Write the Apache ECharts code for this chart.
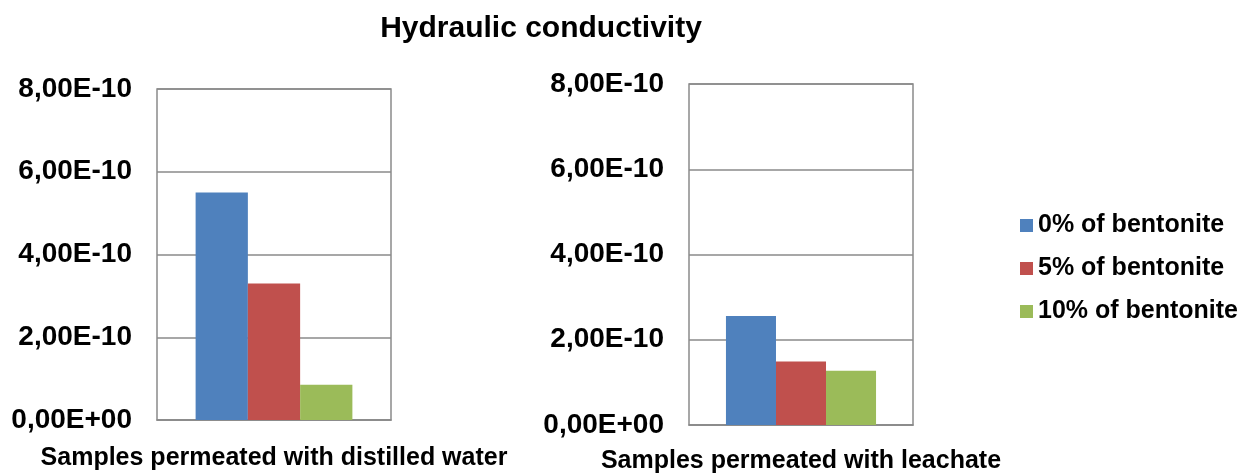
<!DOCTYPE html>
<html>
<head>
<meta charset="utf-8">
<script src="https://cdn.jsdelivr.net/npm/echarts@6/dist/echarts.min.js"></script>
<style>
html,body{margin:0;padding:0;background:#ffffff;}
#chart{width:1245px;height:476px;}
</style>
</head>
<body>
<div id="chart"></div>
<script>
const titleText = 'Hydraulic conductivity';
const categoriesLeft = ['Samples permeated with distilled water'];
const categoriesRight = ['Samples permeated with leachate'];
const seriesNames = ['0% of bentonite', '5% of bentonite', '10% of bentonite'];
const distilledWater = [5.50e-10, 3.30e-10, 0.85e-10];
const leachate = [2.56e-10, 1.49e-10, 1.27e-10];
const yTicks = [0, 2e-10, 4e-10, 6e-10, 8e-10];
const colors = ['#4F81BD', '#C0504D', '#9BBB59'];

function sci(v) {
  if (v === 0) return '0,00E+00';
  let e = Math.floor(Math.log10(Math.abs(v)) + 1e-9);
  let m = v / Math.pow(10, e);
  const sign = e < 0 ? '-' : '+';
  const ea = Math.abs(e);
  return m.toFixed(2).replace('.', ',') + 'E' + sign + (ea < 10 ? '0' + ea : '' + ea);
}

const font = '"Liberation Sans", Arial, sans-serif';
const yMin = yTicks[0], yMax = yTicks[yTicks.length - 1], yInt = yTicks[1] - yTicks[0];

function yAxis(idx) {
  return {
    type: 'value', gridIndex: idx, min: yMin, max: yMax, interval: yInt,
    axisLine: {show: false}, axisTick: {show: false},
    splitLine: {lineStyle: {color: '#8a8a8a', width: 1.5}},
    axisLabel: {formatter: sci, color: '#000', fontFamily: font, fontWeight: 'bold', fontSize: 28, margin: 25}
  };
}
function xAxis(idx, cats, margin) {
  return {
    type: 'category', gridIndex: idx, data: cats,
    axisLine: {lineStyle: {color: '#8a8a8a', width: 1.5}},
    axisTick: {show: false},
    axisLabel: {color: '#000', fontFamily: font, fontWeight: 'bold', fontSize: 25, margin: margin}
  };
}

const series = [];
[distilledWater, leachate].forEach((arr, g) => {
  seriesNames.forEach((name, i) => {
    series.push({
      type: 'bar', name: name, xAxisIndex: g, yAxisIndex: g,
      data: [arr[i]], barGap: '0%', barCategoryGap: '33%',
      itemStyle: {color: colors[i]}
    });
  });
});

const chart = echarts.init(document.getElementById('chart'), null, {renderer: 'canvas'});
chart.setOption({
  backgroundColor: '#ffffff',
  animation: false,
  color: colors,
  title: {
    text: titleText, left: 536, top: 9, textAlign: 'center',
    textStyle: {fontFamily: font, fontWeight: 'bold', fontSize: 30, color: '#000'}
  },
  legend: {
    orient: 'vertical', left: 1015, top: 208,
    itemWidth: 13, itemHeight: 13, itemGap: 18, icon: 'rect',
    data: seriesNames,
    textStyle: {fontFamily: font, fontWeight: 'bold', fontSize: 25, color: '#000', lineHeight: 25}
  },
  grid: [
    {left: 157, top: 89, width: 234, height: 331, show: true, borderColor: '#8a8a8a', borderWidth: 1.5, backgroundColor: 'transparent'},
    {left: 689, top: 84, width: 224, height: 341, show: true, borderColor: '#8a8a8a', borderWidth: 1.5, backgroundColor: 'transparent'}
  ],
  xAxis: [xAxis(0, categoriesLeft, 26), xAxis(1, categoriesRight, 24)],
  yAxis: [yAxis(0), yAxis(1)],
  series: series
});
</script>
</body>
</html>
